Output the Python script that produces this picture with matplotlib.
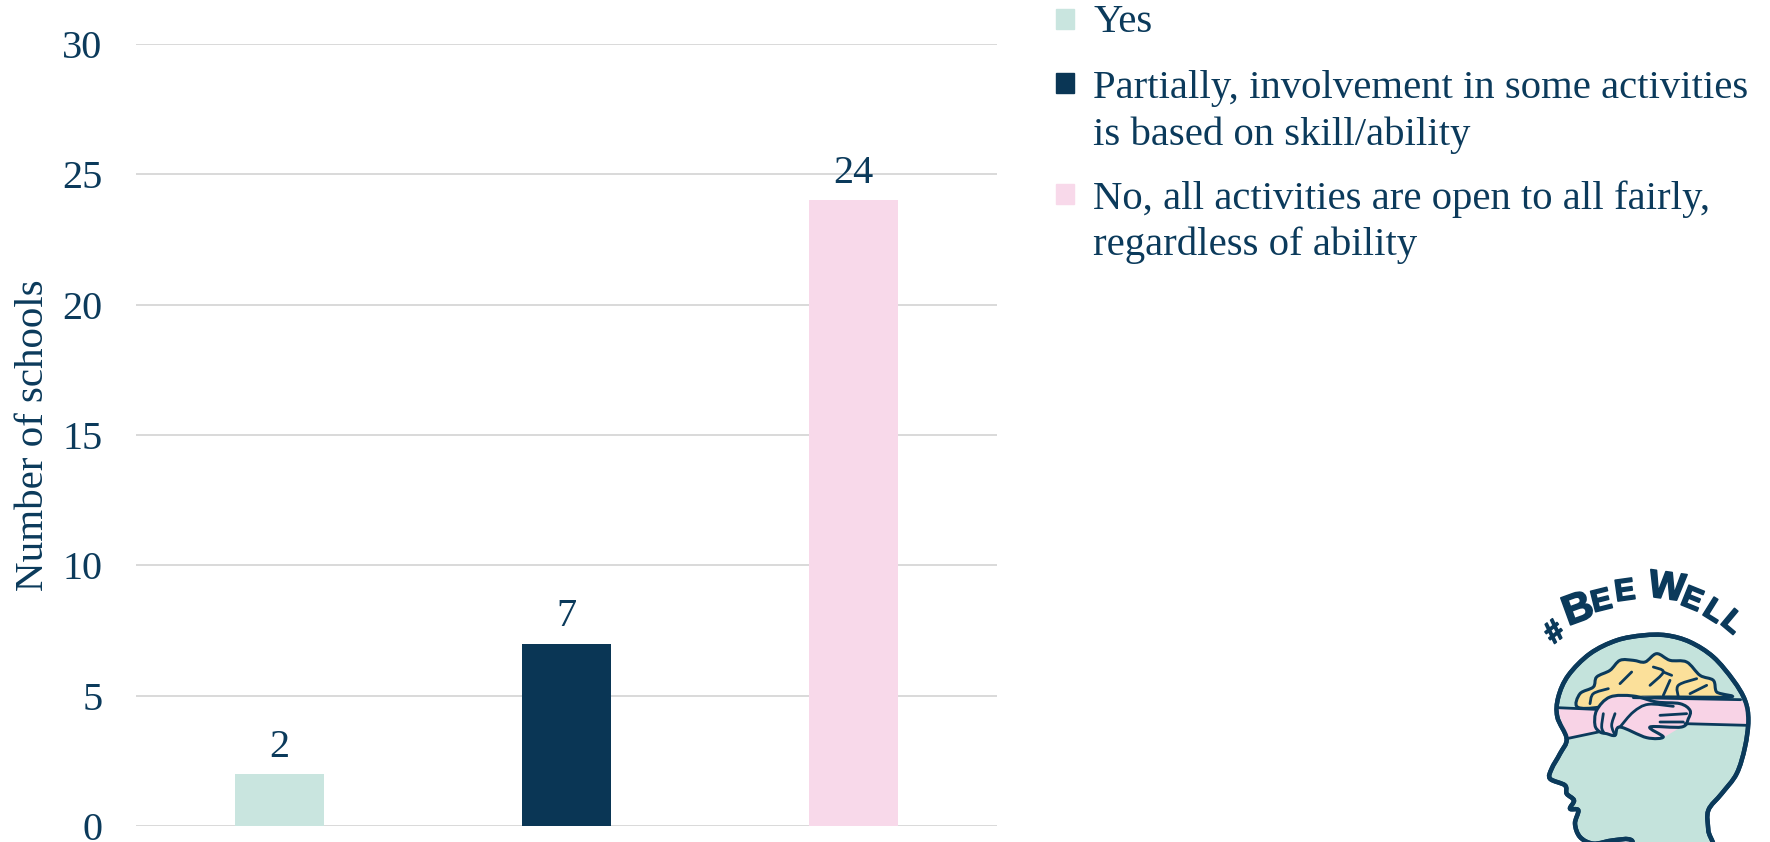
#!/usr/bin/env python3

import matplotlib
matplotlib.use('Agg')
import matplotlib.pyplot as plt
import matplotlib.patheffects as pe
from matplotlib.patches import PathPatch, Rectangle
from matplotlib.path import Path

W, H = 1770, 842

responses = ['Yes', 'Partially, involvement in some activities\nis based on skill/ability',
	'No, all activities are open to all fairly,\nregardless of ability']
schools = [2, 7, 24]
bar_colours = ['#c9e5df', '#0a3655', '#f8d9ea']
yticks = [0, 5, 10, 15, 20, 25, 30]

NAVY = '#0b3a5b'

plt.rcParams['font.family'] = ['Liberation Serif', 'DejaVu Serif']

fig = plt.figure(figsize=(W / 100, H / 100), dpi=100)

def px_axes(x0, y0, x1, y1):
	return fig.add_axes([x0 / W, 1 - y1 / H, (x1 - x0) / W, (y1 - y0) / H])

# catmull-rom through the points, the logo has no straight edges
def smooth(pts, closed=False):
	n = len(pts)
	verts = [pts[0]]
	codes = [Path.MOVETO]
	for i in range(n if closed else n - 1):
		if closed:
			p0, p1, p2, p3 = pts[(i - 1) % n], pts[i], pts[(i + 1) % n], pts[(i + 2) % n]
		else:
			p0, p1, p2, p3 = pts[max(i - 1, 0)], pts[i], pts[i + 1], pts[min(i + 2, n - 1)]
		c1 = (p1[0] + (p2[0] - p0[0]) / 6, p1[1] + (p2[1] - p0[1]) / 6)
		c2 = (p2[0] - (p3[0] - p1[0]) / 6, p2[1] - (p3[1] - p1[1]) / 6)
		verts += [c1, c2, p2]
		codes += [Path.CURVE4] * 3
	return Path(verts, codes)

ax = px_axes(136, 44, 997, 826)
xs = range(len(schools))
bars = ax.bar(xs, schools, width=0.312, color=bar_colours, zorder=3)
ax.bar_label(bars, padding=6, fontsize=29, color=NAVY)
ax.set_xlim(-0.5, 2.5)
ax.set_ylim(0, 30)
ax.set_yticks(yticks)
ax.set_xticks([])
ax.tick_params(axis='y', length=0, pad=24, labelsize=29, labelcolor=NAVY)
ax.grid(axis='y', color='#d9d9d9', lw=1.4)
ax.set_axisbelow(True)
for s in ax.spines.values():
	s.set_visible(False)
ax.set_ylabel('Number of schools', fontsize=29.5, color=NAVY)
ax.yaxis.set_label_coords(-0.097, 0.5)

# legend, written by hand because the squares sit on the first line of each label
legend_tops = [9, 73, 184]
text_tops = [32, 98, 209]
for label, col, sq, base in zip(responses, bar_colours, legend_tops, text_tops):
	fig.add_artist(Rectangle((1056 / W, 1 - (sq + 20) / H), 18 / W, 20 / H, color=col, transform=fig.transFigure))
	first, *rest = label.split('\n')
	fig.text(1093 / W, 1 - base / H, first, fontsize=29.3, color=NAVY, va='baseline')
	for line in rest:
		fig.text(1093 / W, 1 - (base + 46.5) / H, line, fontsize=29.3, color=NAVY, va='baseline')

# logo, same coordinates as a 3x crop of the corner
logo = px_axes(1500, 547, 1770, 849)
logo.set_xlim(0, 810)
logo.set_ylim(906, 0)
logo.axis('off')

head = [(200, 575), (172, 510), (175, 450), (205, 385), (270, 320), (350, 280), (430, 265), (500, 265),
	(570, 285), (640, 330), (700, 400), (735, 460), (745, 520), (735, 600), (710, 680), (665, 740),
	(625, 790), (625, 850), (632, 930), (415, 930), (395, 880), (340, 880), (280, 890), (240, 870),
	(225, 830), (235, 790), (210, 785), (222, 760), (200, 740), (195, 715), (150, 695), (155, 665), (180, 620)]
brain = [(232, 480), (240, 440), (280, 420), (290, 390), (330, 370), (360, 340), (400, 340), (435, 345),
	(470, 320), (510, 340), (560, 345), (600, 385), (640, 400), (650, 435), (685, 450), (400, 452), (300, 480)]
band = [(172, 482), (285, 487), (330, 450), (400, 448), (722, 458), (745, 480), (742, 535), (560, 530),
	(490, 572), (440, 570), (360, 540), (200, 575)]
hand = [(290, 490), (330, 450), (400, 447), (470, 465), (540, 470), (570, 490), (565, 515), (545, 540),
	(450, 540), (490, 570), (440, 572), (360, 540), (345, 565), (320, 560), (300, 555), (285, 535)]
band_lines = [[(172, 482), (285, 487)], [(400, 452), (722, 458)], [(555, 530), (742, 535)], [(200, 575), (295, 555)]]
hand_lines = [[(310, 500), (305, 540), (312, 558)], [(345, 500), (335, 535), (345, 565)],
	[(360, 540), (400, 495), (445, 472), (520, 478)], [(480, 505), (560, 500)], [(480, 525), (550, 525)]]
folds = [[(270, 470), (280, 440), (325, 425)], [(360, 410), (395, 375)], [(450, 415), (490, 375), (460, 360)],
	[(490, 375), (515, 385)], [(490, 445), (510, 400)], [(535, 450), (535, 415), (590, 395)], [(570, 440), (620, 415)]]

logo.add_patch(PathPatch(smooth(head, True), fc='#c4e3dc', ec=NAVY, lw=3.2, joinstyle='round'))
logo.add_patch(PathPatch(smooth(brain, True), fc='#fbe09a', ec=NAVY, lw=2.2, joinstyle='round'))
logo.add_patch(PathPatch(Path(band + [band[0]]), fc='#f8d3e6', ec='none'))
logo.add_patch(PathPatch(smooth(hand, True), fc='#f8d3e6', ec=NAVY, lw=2.2, joinstyle='round'))
for line in band_lines + hand_lines + folds:
	logo.add_patch(PathPatch(smooth(line), fc='none', ec=NAVY, lw=2, capstyle='round'))
logo.add_patch(PathPatch(smooth(head, True), fc='none', ec=NAVY, lw=3.2, joinstyle='round'))

letters = ['#', 'B', 'E', 'E', 'W', 'E', 'L', 'L']
letter_x = [165, 235, 305, 375, 500, 575, 640, 695]
letter_y = [258, 190, 165, 135, 125, 160, 195, 228]
letter_rot = [38, 20, 14, 8, -8, -22, -32, -40]
letter_size = [22, 30, 22, 22, 28, 22, 22, 22]
for c, x, y, r, s in zip(letters, letter_x, letter_y, letter_rot, letter_size):
	logo.text(x, y, c, rotation=r, fontsize=s, fontweight='bold', family='Liberation Sans', color=NAVY,
		ha='center', va='center', path_effects=[pe.withStroke(linewidth=1.2, foreground=NAVY)])

fig.savefig('out.png', dpi=100)
